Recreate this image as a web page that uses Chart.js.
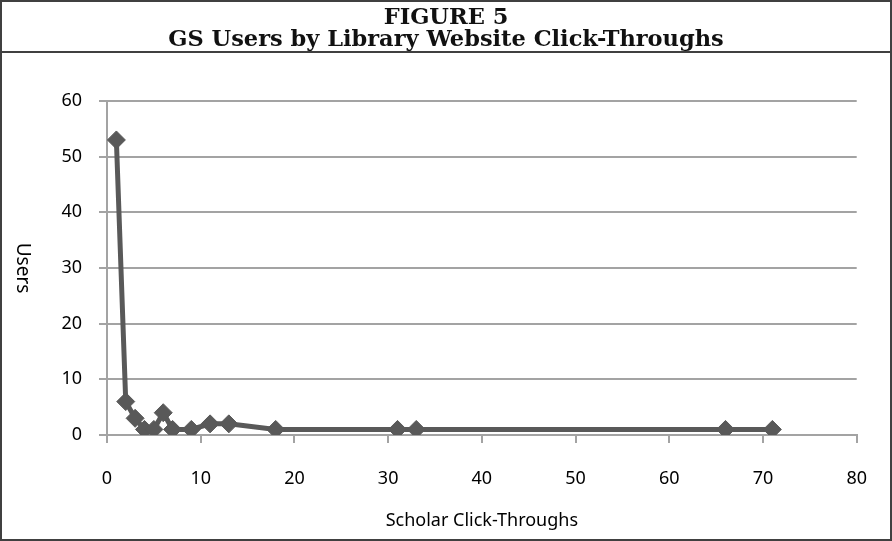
<!DOCTYPE html>
<html>
<head>
<meta charset="utf-8">
<script src="https://cdn.jsdelivr.net/npm/chart.js@4"></script>
<style>
  html, body { margin: 0; padding: 0; background: #fff; }
  #wrap { position: relative; width: 892px; height: 541px; }
  #chart { position: absolute; left: 0; top: 0; }
  #frame {
    position: absolute; left: 0; top: 0; width: 892px; height: 541px;
    box-sizing: border-box; border: 2px solid #404040; pointer-events: none;
  }
  #title {
    position: absolute; left: 0; top: 0; width: 888px; height: 46px;
    border-bottom: 2px solid #404040; text-align: center;
    font-family: "DejaVu Serif", "Liberation Serif", serif; font-weight: bold;
    font-size: 22.5px; line-height: 22px; padding-top: 3px;
    color: #111;
  }
</style>
</head>
<body>
<div id="wrap">
  <canvas id="chart" width="892" height="541"></canvas>
  <div id="frame">
    <div id="title">FIGURE 5<br>GS Users by Library Website Click-Throughs</div>
  </div>
</div>
<script>
// Scholar click-throughs (x) vs number of users (y)
var clicks = [1, 2, 3, 4, 5, 6, 7, 9, 11, 13, 18, 31, 33, 66, 71];
var users  = [53, 6, 3, 1, 1, 4, 1, 1, 2, 2, 1, 1, 1, 1, 1];

var xTitle = 'Scholar Click-Throughs';
var yTitle = 'Users';

var gridColor = '#a3a3a3';
var lineColor = '#595959';
var fontFamily = '"Noto Sans", "Open Sans", sans-serif';
var tickFont = { family: fontFamily, size: 18 };
var titleFont = { family: fontFamily, size: 18 };

var points = clicks.map(function(x, i) {
  return { x: x, y: users[i] };
});

// y-axis title reads top-to-bottom in the original
var yTitlePlugin = {
  id: 'yTitle',
  afterDraw: function(chart) {
    var ctx = chart.ctx;
    var area = chart.chartArea;
    ctx.save();
    ctx.translate(22, area.top + (area.bottom - area.top) / 2);
    ctx.rotate(Math.PI / 2);
    ctx.font = '19px ' + fontFamily;
    ctx.fillStyle = '#000';
    ctx.textAlign = 'center';
    ctx.textBaseline = 'middle';
    ctx.fillText(yTitle, 0, 0);
    ctx.restore();
  }
};

new Chart(document.getElementById('chart'), {
  type: 'scatter',
  data: {
    datasets: [{
      data: points,
      showLine: true,
      borderColor: lineColor,
      backgroundColor: lineColor,
      borderWidth: 5,
      pointStyle: 'rectRot',
      pointRadius: 9,
      pointBorderWidth: 1,
      pointBorderColor: lineColor,
      pointBackgroundColor: lineColor
    }]
  },
  options: {
    responsive: false,
    animation: false,
    layout: { padding: { top: 101, right: 31, bottom: 9, left: 0 } },
    plugins: {
      legend: { display: false },
      tooltip: { enabled: false }
    },
    scales: {
      x: {
        type: 'linear',
        min: 0,
        max: 80,
        afterFit: function(scale) { scale.height = 97; },
        ticks: { stepSize: 10, font: tickFont, color: '#000', padding: 25 },
        grid: { drawOnChartArea: false, drawTicks: true, tickLength: 8, color: gridColor, lineWidth: 2 },
        border: { color: gridColor, width: 2 },
        title: { display: true, text: xTitle, font: titleFont, color: '#000', padding: 0 }
      },
      y: {
        min: 0,
        max: 60,
        afterFit: function(scale) { scale.width = 107; },
        ticks: { stepSize: 10, font: tickFont, color: '#000', padding: 17 },
        grid: { color: gridColor, lineWidth: 2, tickLength: 8 },
        border: { color: gridColor, width: 2 }
      }
    }
  },
  plugins: [yTitlePlugin]
});
</script>
</body>
</html>
